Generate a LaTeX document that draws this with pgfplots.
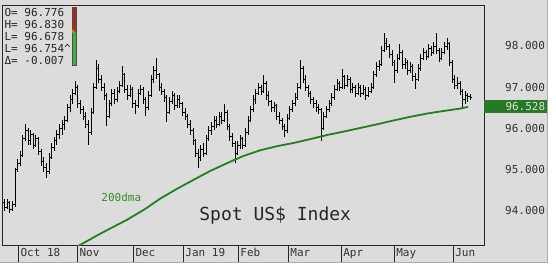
\documentclass[border=0pt]{standalone}
\usepackage{fontspec}
\usepackage{pgfplots}
\pgfplotsset{compat=1.18}
\usepackage{pgfplotstable}
\newfontfamily\dvmono{DejaVu Sans Mono}
\definecolor{bg}{RGB}{220,220,220}
\definecolor{dma}{RGB}{34,128,34}
\definecolor{dmatxt}{RGB}{50,140,50}
\definecolor{boxgreen}{RGB}{38,122,38}
\definecolor{indred}{RGB}{165,40,35}
\definecolor{indgreen}{RGB}{60,175,60}

\pgfplotstableread{
x o h l c
4.0 94.20 94.30 94.00 94.10
6.6 94.10 94.30 94.05 94.20
9.2 94.20 94.25 93.95 94.05
11.9 94.05 94.25 94.00 94.15
14.5 94.15 95.05 94.10 95.00
17.1 95.00 95.25 94.95 95.15
19.7 95.15 95.45 95.10 95.35
22.3 95.35 95.85 95.30 95.75
25.0 95.75 96.10 95.70 95.95
27.6 95.95 96.00 95.60 95.70
30.2 95.70 95.95 95.60 95.85
32.8 95.85 95.90 95.50 95.60
35.4 95.60 95.85 95.55 95.75
38.1 95.75 95.80 95.35 95.45
40.7 95.45 95.50 95.10 95.20
43.3 95.20 95.30 94.95 95.05
45.9 95.05 95.15 94.80 94.95
48.5 94.95 95.40 94.90 95.30
51.2 95.30 95.65 95.25 95.55
53.8 95.55 95.80 95.45 95.70
56.4 95.70 95.95 95.60 95.85
59.0 95.85 96.10 95.75 96.00
61.6 96.00 96.20 95.85 96.10
64.3 96.10 96.30 95.95 96.20
66.9 96.20 96.60 96.15 96.50
69.5 96.50 96.80 96.40 96.70
72.1 96.70 96.95 96.60 96.85
74.7 96.85 97.15 96.80 97.00
77.4 97.00 97.05 96.50 96.60
80.0 96.60 96.70 96.35 96.45
82.6 96.45 96.55 96.20 96.30
85.2 96.30 96.40 96.00 96.10
87.8 96.10 96.20 95.60 95.90
90.5 95.90 96.50 95.85 96.40
93.1 96.40 97.10 96.35 97.00
95.7 97.00 97.65 96.95 97.45
98.3 97.45 97.55 97.10 97.20
100.9 97.20 97.30 96.90 97.00
103.6 97.00 97.10 96.70 96.80
106.2 96.80 96.85 96.05 96.30
108.8 96.30 96.70 96.25 96.60
111.4 96.60 96.95 96.55 96.85
114.0 96.85 96.95 96.60 96.70
116.7 96.70 97.00 96.65 96.90
119.3 96.90 97.15 96.85 97.05
121.9 97.05 97.50 97.00 97.30
124.5 97.30 97.35 96.85 96.95
127.1 96.95 97.05 96.70 96.80
129.8 96.80 97.05 96.75 96.95
132.4 96.95 97.00 96.50 96.60
135.0 96.60 96.70 96.35 96.55
137.6 96.55 96.95 96.50 96.85
140.2 96.85 97.05 96.80 96.95
142.9 96.95 97.00 96.60 96.70
145.5 96.70 96.75 96.30 96.50
148.1 96.50 96.90 96.45 96.80
150.7 96.80 97.30 96.75 97.20
153.3 97.20 97.50 97.10 97.40
156.0 97.40 97.70 97.20 97.30
158.6 97.30 97.35 96.90 97.00
161.2 97.00 97.10 96.80 96.90
163.8 96.90 96.95 96.65 96.75
166.4 96.75 96.80 96.15 96.40
169.1 96.40 96.75 96.35 96.65
171.7 96.65 96.90 96.60 96.80
174.3 96.80 96.85 96.45 96.55
176.9 96.55 96.80 96.50 96.70
179.5 96.70 96.80 96.50 96.60
182.2 96.60 96.65 96.30 96.40
184.8 96.40 96.50 96.20 96.30
187.4 96.30 96.35 96.00 96.10
190.0 96.10 96.20 95.85 95.95
192.6 95.95 96.00 95.60 95.70
195.3 95.70 95.75 95.30 95.40
197.9 95.40 95.50 95.05 95.30
200.5 95.30 95.60 95.20 95.50
203.1 95.50 95.65 95.30 95.40
205.7 95.40 95.85 95.35 95.75
208.4 95.75 96.05 95.70 95.95
211.0 95.95 96.15 95.85 96.05
213.6 96.05 96.30 95.95 96.20
216.2 96.20 96.30 96.00 96.10
218.8 96.10 96.40 96.05 96.30
221.5 96.30 96.40 96.10 96.20
224.1 96.20 96.60 96.15 96.40
226.7 96.40 96.45 95.95 96.05
229.3 96.05 96.10 95.70 95.80
231.9 95.80 95.90 95.55 95.65
234.6 95.65 95.70 95.15 95.40
237.2 95.40 95.70 95.35 95.60
239.8 95.60 95.85 95.50 95.75
242.4 95.75 95.80 95.50 95.60
245.0 95.60 96.00 95.55 95.90
247.7 95.90 96.30 95.85 96.20
250.3 96.20 96.55 96.15 96.45
252.9 96.45 96.80 96.40 96.70
255.5 96.70 96.95 96.60 96.85
258.1 96.85 97.10 96.80 97.00
260.8 97.00 97.05 96.80 96.90
263.4 96.90 97.30 96.85 97.10
266.0 97.10 97.15 96.70 96.80
268.6 96.80 96.90 96.55 96.65
271.2 96.65 96.70 96.40 96.50
273.9 96.50 96.65 96.40 96.55
276.5 96.55 96.60 96.20 96.30
279.1 96.30 96.40 96.10 96.20
281.7 96.20 96.25 95.95 96.05
284.3 96.05 96.10 95.80 95.95
287.0 95.95 96.35 95.90 96.25
289.6 96.25 96.55 96.20 96.45
292.2 96.45 96.70 96.40 96.60
294.8 96.60 96.85 96.55 96.75
297.4 96.75 97.10 96.70 97.00
300.1 97.00 97.65 96.95 97.45
302.7 97.45 97.50 97.10 97.20
305.3 97.20 97.30 96.90 97.00
307.9 97.00 97.05 96.75 96.85
310.5 96.85 96.90 96.60 96.70
313.2 96.70 96.75 96.50 96.60
315.8 96.60 96.70 96.40 96.50
318.4 96.50 96.60 96.35 96.45
321.0 96.45 96.50 95.70 96.00
323.6 96.00 96.40 95.95 96.30
326.3 96.30 96.55 96.25 96.45
328.9 96.45 96.70 96.40 96.60
331.5 96.60 96.85 96.55 96.75
334.1 96.75 97.05 96.70 96.95
336.7 96.95 97.20 96.90 97.10
339.4 97.10 97.15 96.90 97.00
342.0 97.00 97.45 96.95 97.25
344.6 97.25 97.30 96.95 97.05
347.2 97.05 97.30 97.00 97.20
349.8 97.20 97.25 96.85 96.95
352.5 96.95 97.10 96.85 97.00
355.1 97.00 97.05 96.75 96.85
357.7 96.85 97.10 96.80 97.00
360.3 97.00 97.05 96.75 96.85
362.9 96.85 97.05 96.80 96.95
365.6 96.95 97.00 96.70 96.80
368.2 96.80 97.00 96.75 96.90
370.8 96.90 97.10 96.85 97.00
373.4 97.00 97.40 96.95 97.30
376.0 97.30 97.60 97.25 97.50
378.7 97.50 97.65 97.40 97.55
381.3 97.55 98.00 97.50 97.90
383.9 97.90 98.30 97.85 98.05
386.5 98.05 98.20 97.90 98.00
389.1 98.00 98.05 97.70 97.80
391.8 97.80 97.90 97.50 97.60
394.4 97.60 97.65 97.10 97.40
397.0 97.40 97.80 97.35 97.70
399.6 97.70 98.05 97.65 97.85
402.2 97.85 97.90 97.45 97.55
404.9 97.55 97.70 97.45 97.60
407.5 97.60 97.65 97.30 97.40
410.1 97.40 97.60 97.35 97.50
412.7 97.50 97.55 97.15 97.25
415.3 97.25 97.35 96.95 97.20
418.0 97.20 97.55 97.15 97.45
420.6 97.45 97.80 97.40 97.70
423.2 97.70 97.95 97.65 97.85
425.8 97.85 97.90 97.65 97.75
428.4 97.75 98.05 97.70 97.95
431.1 97.95 98.00 97.75 97.85
433.7 97.85 98.10 97.80 98.00
436.3 98.00 98.30 97.80 97.90
438.9 97.90 97.95 97.60 97.70
441.5 97.70 97.95 97.65 97.85
444.2 97.85 98.10 97.80 98.00
446.8 98.00 98.20 97.90 98.05
449.4 98.05 98.10 97.50 97.60
452.0 97.60 97.65 97.10 97.20
454.6 97.20 97.30 96.95 97.05
457.3 97.05 97.25 96.95 97.10
459.9 97.10 97.15 96.80 96.90
462.5 96.90 96.95 96.50 96.70
465.1 96.70 96.90 96.60 96.80
467.7 96.80 96.85 96.65 96.78
470.4 96.776 96.830 96.678 96.754
}\ohlc

\pgfplotstableread{
x v
76 93.12
80 93.18
100 93.45
127 93.79
145 94.05
160 94.30
177 94.54
193 94.75
210 94.97
227 95.16
243 95.33
260 95.47
277 95.57
293 95.645
310 95.74
327 95.84
343 95.92
360 96.01
377 96.10
393 96.19
410 96.28
427 96.36
443 96.42
460 96.48
468 96.52
}\dmatab

\begin{document}
\begin{tikzpicture}
\fill[white] (0pt,0pt) rectangle (556pt,266pt);
\fill[bg] (0pt,3pt) rectangle (548pt,266pt);
\draw[gray!65, line width=0.8pt] (0pt,3.4pt) -- (547.6pt,3.4pt) -- (547.6pt,266pt);
\begin{axis}[
  at={(2pt,21pt)}, anchor=south west,
  width=482pt, height=240pt, scale only axis,
  xmin=2, xmax=484, ymin=93.17, ymax=98.98,
  axis line style={black!85, line width=0.8pt},
  xtick={18,77,133,183,238,288,341,394,453},
  xticklabels={Oct 18,Nov,Dec,Jan 19,Feb,Mar,Apr,May,Jun},
  xtick pos=bottom, tick align=outside, major tick length=17pt,
  xtick style={black!85, line width=0.7pt},
  ytick={94,95,96,97,98},
  yticklabels={94.000,95.000,96.000,97.000,98.000},
  ytick pos=right, yticklabel pos=right,
  ytick style={draw=none},
  tick label style={font=\dvmono\fontsize{11}{12}\selectfont, text=black!80, inner sep=0pt},
  xticklabel style={anchor=west, xshift=2pt, yshift=9pt, text height=8pt, text depth=2pt},
  yticklabel style={anchor=west, xshift=4pt},
  extra y ticks={96.528}, extra y tick labels={96.528},
  extra y tick style={ytick style={draw=none}, yticklabel style={xshift=-21pt, fill=boxgreen, text=black!12, text width=59pt, align=right, inner xsep=2pt, inner ysep=2.5pt, text height=8pt, text depth=0pt}},
]
% high-low bars
\addplot[black, line width=0.65pt, -, forget plot,
  quiver={u=0, v=\thisrow{h}-\thisrow{l}}]
  table[x=x, y=l] {\ohlc};
% open ticks (left)
\addplot[black, line width=0.65pt, -, forget plot,
  quiver={u=-1.5, v=0}]
  table[x=x, y=o] {\ohlc};
% close ticks (right)
\addplot[black, line width=0.65pt, -, forget plot,
  quiver={u=1.5, v=0}]
  table[x=x, y=c] {\ohlc};
\addplot[dma, line width=1.8pt] table[x=x, y=v] {\dmatab};
\end{axis}
% legend block
\begin{scope}[every node/.style={anchor=base west, inner sep=0pt, font=\dvmono\fontsize{11}{12}\selectfont, text=black!85}]
\node at (4pt,250pt) {O= 96.776};
\node at (4pt,237.7pt) {H= 96.830};
\node at (4pt,226pt) {L= 96.678};
\node at (4pt,213.7pt) {L= 96.754\textasciicircum};
\node at (4pt,201.7pt) {Δ= -0.007};
\end{scope}
\filldraw[fill=indred, draw=black!70, line width=0.4pt] (72pt,235pt) rectangle (76pt,259pt);
\filldraw[fill=indgreen, draw=black!70, line width=0.4pt] (72pt,201pt) rectangle (76pt,235pt);
\fill[orange] (72pt,233pt) -- (74.5pt,235pt) -- (72pt,237pt) -- cycle;
\node[font=\dvmono\fontsize{11}{12}\selectfont, text=dmatxt] at (121pt,69pt) {200dma};
\node[font=\dvmono\fontsize{18}{20}\selectfont, text=black!85] at (275pt,51pt) {Spot US\$ Index};
\end{tikzpicture}
\end{document}
